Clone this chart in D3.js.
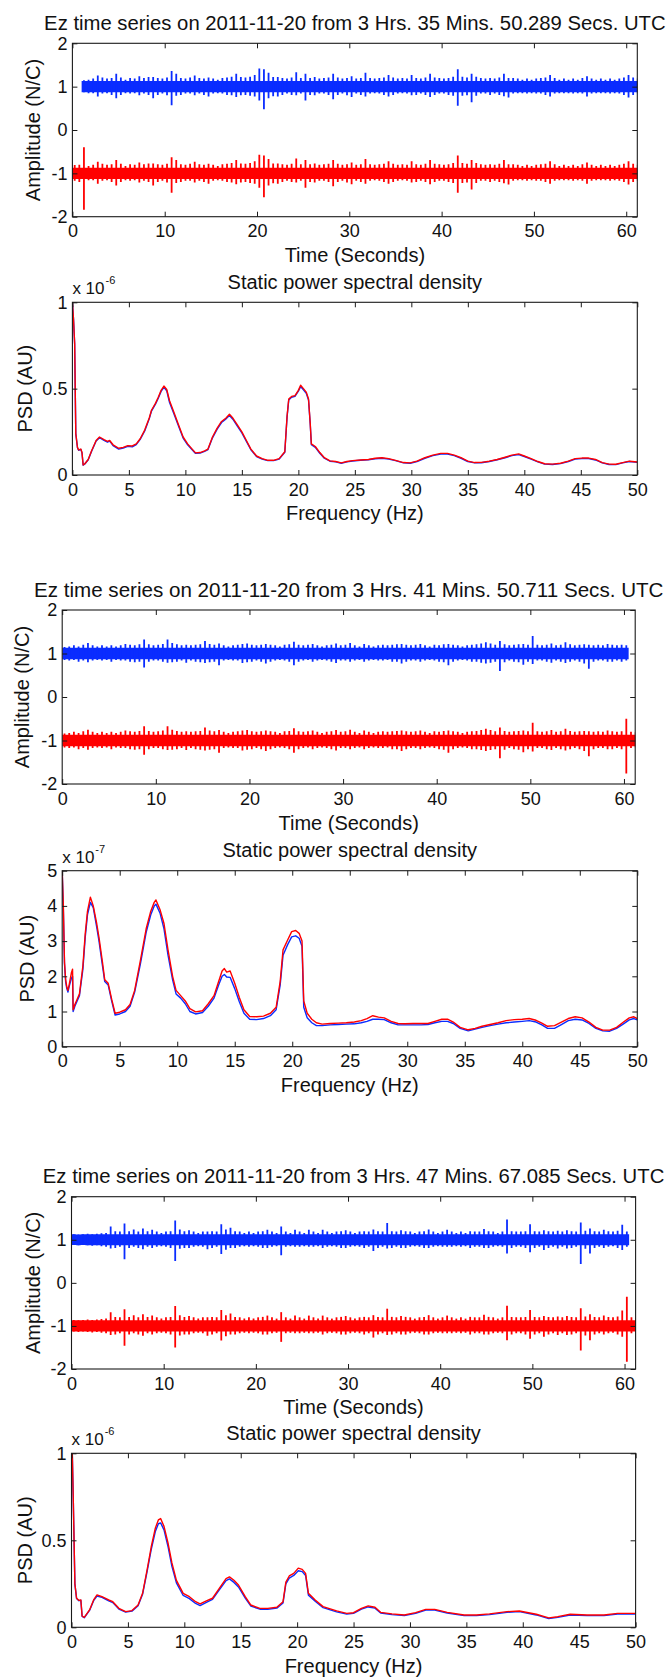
<!DOCTYPE html>
<html>
<head>
<meta charset="utf-8">
<script src="https://cdn.jsdelivr.net/npm/d3@7"></script>
<style>
  html, body { margin: 0; padding: 0; background: #ffffff; }
  svg { display: block; }
</style>
</head>
<body>
<svg id="chart" width="667" height="1677"></svg>
<script>
// ---------------------------------------------------------------------------
// Axis ticks and labels
// ---------------------------------------------------------------------------
const timeTicks = [0, 10, 20, 30, 40, 50, 60];
const ampTicks = [-2, -1, 0, 1, 2];
const freqTicks = [0, 5, 10, 15, 20, 25, 30, 35, 40, 45, 50];
const psdTicksE6 = [0, 0.5, 1];
const psdTicksE7 = [0, 1, 2, 3, 4, 5];
const timeMax = 61.2;

const tsTitles = [
  "Ez time series on 2011-11-20 from 3 Hrs. 35 Mins. 50.289 Secs. UTC",
  "Ez time series on 2011-11-20 from 3 Hrs. 41 Mins. 50.711 Secs. UTC",
  "Ez time series on 2011-11-20 from 3 Hrs. 47 Mins. 67.085 Secs. UTC"
];
const psdTitle = "Static power spectral density";
const psdExponents = ["-6", "-7", "-6"];

// ---------------------------------------------------------------------------
// Ez time series: per-bin upper / lower envelope (N/C), bins of 0.5 s
// Blue trace sits at +1 N/C, red trace at -1 N/C
// ---------------------------------------------------------------------------
const binStep = 0.5;
const blueOffset = 1;
const redOffset = -1;

// Record 1 (3 h 35 min)
const ez1BlueStart = 1.0;
const ez1BlueHi = [1.15,1.16,1.19,1.26,1.21,1.19,1.20,1.30,1.21,1.16,
1.20,1.19,1.24,1.20,1.22,1.22,1.20,1.19,1.21,1.36,
1.30,1.20,1.19,1.21,1.26,1.20,1.19,1.21,1.19,1.16,
1.20,1.21,1.23,1.30,1.22,1.21,1.23,1.27,1.42,1.40,
1.32,1.22,1.22,1.20,1.19,1.21,1.33,1.20,1.30,1.20,
1.22,1.19,1.20,1.21,1.30,1.21,1.19,1.20,1.24,1.19,
1.20,1.32,1.20,1.19,1.20,1.21,1.27,1.21,1.19,1.20,
1.19,1.27,1.20,1.19,1.21,1.30,1.21,1.20,1.19,1.20,
1.23,1.40,1.23,1.21,1.30,1.23,1.20,1.19,1.20,1.19,
1.21,1.30,1.20,1.20,1.19,1.16,1.19,1.16,1.19,1.20,
1.21,1.27,1.20,1.16,1.19,1.16,1.19,1.16,1.20,1.24,
1.19,1.16,1.19,1.16,1.19,1.16,1.19,1.21,1.27,1.21,1.19];
const ez1BlueLo = [0.87,0.85,0.85,0.77,0.84,0.85,0.81,0.73,0.81,0.85,
0.84,0.85,0.80,0.84,0.81,0.73,0.81,0.84,0.80,0.57,
0.79,0.81,0.84,0.84,0.80,0.84,0.81,0.77,0.84,0.85,
0.84,0.81,0.80,0.76,0.80,0.81,0.79,0.77,0.68,0.48,
0.73,0.78,0.77,0.81,0.84,0.81,0.80,0.84,0.68,0.81,
0.80,0.84,0.84,0.81,0.71,0.81,0.84,0.80,0.76,0.84,
0.81,0.77,0.84,0.85,0.84,0.81,0.77,0.81,0.84,0.85,
0.84,0.80,0.81,0.84,0.81,0.76,0.81,0.84,0.84,0.81,
0.79,0.56,0.79,0.80,0.64,0.79,0.84,0.84,0.81,0.84,
0.81,0.78,0.75,0.84,0.85,0.85,0.84,0.85,0.84,0.84,
0.81,0.77,0.84,0.85,0.85,0.85,0.84,0.85,0.84,0.77,
0.84,0.85,0.85,0.85,0.84,0.85,0.84,0.81,0.75,0.81,0.84];
const ez1RedStart = 0.0;
const ez1RedHi = [-0.81,-0.80,-0.40,
-0.83,-0.80,-0.73,-0.78,-0.80,-0.79,-0.69,-0.78,-0.83,-0.79,
-0.80,-0.75,-0.79,-0.77,-0.77,-0.79,-0.80,-0.78,-0.63,-0.69,
-0.79,-0.80,-0.78,-0.73,-0.79,-0.80,-0.78,-0.80,-0.83,-0.79,
-0.78,-0.76,-0.69,-0.77,-0.78,-0.76,-0.72,-0.57,-0.59,-0.67,
-0.77,-0.77,-0.79,-0.80,-0.78,-0.66,-0.79,-0.69,-0.79,-0.77,
-0.80,-0.79,-0.78,-0.69,-0.78,-0.80,-0.79,-0.75,-0.80,-0.79,
-0.67,-0.79,-0.80,-0.79,-0.78,-0.72,-0.78,-0.80,-0.79,-0.80,
-0.72,-0.79,-0.80,-0.78,-0.69,-0.78,-0.79,-0.80,-0.79,-0.76,
-0.59,-0.76,-0.78,-0.69,-0.76,-0.79,-0.80,-0.79,-0.80,-0.78,
-0.69,-0.79,-0.79,-0.80,-0.83,-0.80,-0.83,-0.80,-0.79,-0.78,
-0.72,-0.79,-0.83,-0.80,-0.83,-0.80,-0.83,-0.79,-0.75,-0.80,
-0.83,-0.80,-0.83,-0.80,-0.83,-0.80,-0.78,-0.72,-0.78,-0.80];
const ez1RedLo = [-1.17,-1.20,-1.84,
-1.16,-1.16,-1.24,-1.17,-1.16,-1.20,-1.28,-1.20,-1.16,-1.17,
-1.16,-1.21,-1.17,-1.20,-1.28,-1.20,-1.17,-1.21,-1.45,-1.22,
-1.20,-1.17,-1.17,-1.21,-1.17,-1.20,-1.24,-1.17,-1.16,-1.17,
-1.20,-1.21,-1.25,-1.21,-1.20,-1.22,-1.24,-1.33,-1.55,-1.28,
-1.23,-1.24,-1.20,-1.17,-1.20,-1.21,-1.17,-1.33,-1.20,-1.21,
-1.17,-1.17,-1.20,-1.30,-1.20,-1.17,-1.21,-1.25,-1.17,-1.20,
-1.24,-1.17,-1.16,-1.17,-1.20,-1.24,-1.20,-1.17,-1.16,-1.17,
-1.21,-1.20,-1.17,-1.20,-1.25,-1.20,-1.17,-1.17,-1.20,-1.22,
-1.45,-1.22,-1.21,-1.37,-1.22,-1.17,-1.17,-1.20,-1.17,-1.20,
-1.23,-1.26,-1.17,-1.16,-1.16,-1.17,-1.16,-1.17,-1.17,-1.20,
-1.24,-1.17,-1.16,-1.16,-1.16,-1.17,-1.16,-1.17,-1.24,-1.17,
-1.16,-1.16,-1.16,-1.17,-1.16,-1.17,-1.20,-1.26,-1.20,-1.17];

// Record 2 (3 h 41 min)
const ez2BlueStart = 0.0;
const ez2BlueHi = [1.15,1.16,1.19,1.16,1.20,1.24,1.19,1.16,1.19,1.16,
1.19,1.16,1.19,1.22,1.20,1.19,1.21,1.32,1.21,1.19,
1.20,1.22,1.32,1.24,1.21,1.19,1.20,1.19,1.20,1.21,
1.29,1.22,1.20,1.23,1.19,1.16,1.19,1.20,1.22,1.23,
1.20,1.19,1.20,1.22,1.20,1.19,1.16,1.20,1.21,1.27,
1.20,1.19,1.20,1.22,1.19,1.16,1.19,1.20,1.23,1.19,
1.20,1.24,1.19,1.16,1.22,1.19,1.16,1.19,1.20,1.19,
1.20,1.21,1.22,1.20,1.19,1.20,1.22,1.19,1.16,1.20,
1.19,1.21,1.22,1.20,1.19,1.16,1.19,1.20,1.21,1.23,
1.26,1.23,1.20,1.29,1.21,1.19,1.20,1.21,1.22,1.20,
1.40,1.20,1.19,1.20,1.23,1.19,1.20,1.26,1.21,1.19,
1.20,1.21,1.20,1.19,1.20,1.19,1.22,1.20,1.19,1.20,1.19];
const ez2BlueLo = [0.85,0.84,0.85,0.81,0.84,0.80,0.84,0.85,0.84,0.85,
0.81,0.85,0.84,0.84,0.81,0.80,0.81,0.68,0.81,0.84,
0.84,0.81,0.79,0.80,0.81,0.84,0.79,0.84,0.81,0.80,
0.78,0.80,0.81,0.73,0.84,0.85,0.84,0.84,0.78,0.80,
0.81,0.84,0.81,0.77,0.81,0.84,0.85,0.84,0.81,0.73,
0.81,0.84,0.85,0.81,0.84,0.85,0.84,0.81,0.78,0.84,
0.84,0.81,0.84,0.85,0.81,0.84,0.85,0.84,0.84,0.85,
0.81,0.81,0.77,0.81,0.84,0.84,0.81,0.84,0.85,0.84,
0.81,0.80,0.73,0.81,0.84,0.85,0.84,0.81,0.81,0.79,
0.77,0.79,0.81,0.60,0.80,0.84,0.81,0.80,0.74,0.81,
0.76,0.84,0.84,0.81,0.79,0.84,0.81,0.78,0.81,0.84,
0.81,0.77,0.65,0.81,0.84,0.84,0.81,0.81,0.84,0.81,0.84];
const ez2RedStart = 0.0;
const ez2RedHi = [-0.84,-0.83,-0.80,-0.83,-0.79,-0.75,-0.80,-0.83,-0.80,-0.83,
-0.80,-0.83,-0.80,-0.77,-0.79,-0.80,-0.78,-0.67,-0.78,-0.80,
-0.79,-0.77,-0.67,-0.75,-0.78,-0.80,-0.79,-0.80,-0.79,-0.78,
-0.70,-0.77,-0.79,-0.76,-0.80,-0.83,-0.80,-0.79,-0.77,-0.76,
-0.79,-0.80,-0.79,-0.77,-0.79,-0.80,-0.83,-0.79,-0.78,-0.72,
-0.79,-0.80,-0.79,-0.77,-0.80,-0.83,-0.80,-0.79,-0.76,-0.80,
-0.79,-0.75,-0.80,-0.83,-0.77,-0.80,-0.83,-0.80,-0.79,-0.80,
-0.79,-0.78,-0.77,-0.79,-0.80,-0.79,-0.77,-0.80,-0.83,-0.79,
-0.80,-0.78,-0.77,-0.79,-0.80,-0.83,-0.80,-0.79,-0.78,-0.76,
-0.73,-0.76,-0.79,-0.70,-0.78,-0.80,-0.79,-0.78,-0.77,-0.79,
-0.59,-0.79,-0.80,-0.79,-0.76,-0.80,-0.79,-0.73,-0.78,-0.80,
-0.79,-0.78,-0.79,-0.80,-0.79,-0.80,-0.77,-0.79,-0.80,-0.79,
-0.50,-0.80,-0.81];
const ez2RedLo = [-1.16,-1.17,-1.16,-1.20,-1.17,-1.21,-1.17,-1.16,-1.17,-1.16,
-1.20,-1.16,-1.17,-1.17,-1.20,-1.21,-1.20,-1.33,-1.20,-1.17,
-1.17,-1.20,-1.22,-1.21,-1.20,-1.17,-1.22,-1.17,-1.20,-1.21,
-1.23,-1.21,-1.20,-1.28,-1.17,-1.16,-1.17,-1.17,-1.23,-1.21,
-1.20,-1.17,-1.20,-1.24,-1.20,-1.17,-1.16,-1.17,-1.20,-1.28,
-1.20,-1.17,-1.16,-1.20,-1.17,-1.16,-1.17,-1.20,-1.23,-1.17,
-1.17,-1.20,-1.17,-1.16,-1.20,-1.17,-1.16,-1.17,-1.17,-1.16,
-1.20,-1.20,-1.24,-1.20,-1.17,-1.17,-1.20,-1.17,-1.16,-1.17,
-1.20,-1.21,-1.28,-1.20,-1.17,-1.16,-1.17,-1.20,-1.20,-1.22,
-1.24,-1.22,-1.20,-1.41,-1.21,-1.17,-1.20,-1.21,-1.27,-1.20,
-1.25,-1.17,-1.17,-1.20,-1.22,-1.17,-1.20,-1.23,-1.20,-1.17,
-1.20,-1.24,-1.36,-1.20,-1.17,-1.17,-1.20,-1.20,-1.17,-1.20,
-1.76,-1.17,-1.16];

// Record 3 (3 h 47 min)
const ez3BlueStart = 0.0;
const ez3BlueHi = [1.13,1.12,1.13,1.14,1.13,1.14,1.15,1.16,1.31,1.20,
1.19,1.38,1.20,1.24,1.19,1.26,1.20,1.23,1.19,1.16,
1.19,1.20,1.45,1.24,1.20,1.22,1.19,1.16,1.19,1.19,
1.20,1.19,1.36,1.24,1.28,1.20,1.19,1.16,1.19,1.16,
1.19,1.20,1.23,1.19,1.16,1.31,1.19,1.16,1.23,1.19,
1.16,1.23,1.19,1.16,1.23,1.19,1.16,1.19,1.20,1.22,
1.19,1.16,1.19,1.20,1.19,1.24,1.20,1.19,1.39,1.20,
1.19,1.22,1.20,1.19,1.16,1.19,1.20,1.24,1.19,1.16,
1.19,1.23,1.19,1.16,1.19,1.16,1.20,1.19,1.19,1.25,
1.20,1.19,1.16,1.19,1.47,1.20,1.19,1.19,1.20,1.36,
1.20,1.19,1.22,1.20,1.19,1.21,1.19,1.22,1.20,1.19,
1.40,1.21,1.26,1.20,1.19,1.23,1.20,1.19,1.21,1.35,1.19];
const ez3BlueLo = [0.88,0.87,0.88,0.87,0.86,0.87,0.85,0.84,0.80,0.81,
0.84,0.55,0.81,0.84,0.81,0.78,0.84,0.81,0.84,0.85,
0.84,0.81,0.51,0.79,0.81,0.81,0.84,0.85,0.84,0.78,
0.81,0.84,0.67,0.77,0.81,0.81,0.84,0.85,0.84,0.85,
0.84,0.81,0.81,0.84,0.85,0.64,0.84,0.85,0.84,0.84,
0.85,0.84,0.84,0.85,0.81,0.84,0.85,0.84,0.81,0.81,
0.84,0.85,0.84,0.81,0.84,0.74,0.81,0.84,0.80,0.81,
0.84,0.81,0.81,0.84,0.85,0.84,0.81,0.81,0.84,0.85,
0.84,0.84,0.84,0.85,0.84,0.85,0.81,0.84,0.84,0.81,
0.81,0.84,0.85,0.84,0.68,0.81,0.84,0.84,0.81,0.71,
0.81,0.84,0.76,0.81,0.84,0.80,0.84,0.80,0.81,0.84,
0.44,0.79,0.68,0.81,0.84,0.81,0.84,0.85,0.81,0.76,0.84];
const ez3RedStart = 0.0;
const ez3RedHi = [-0.86,-0.87,-0.86,-0.85,-0.86,-0.85,-0.84,-0.83,-0.68,-0.79,
-0.80,-0.61,-0.79,-0.75,-0.80,-0.73,-0.79,-0.76,-0.80,-0.83,
-0.80,-0.79,-0.54,-0.75,-0.79,-0.77,-0.80,-0.83,-0.80,-0.80,
-0.79,-0.80,-0.63,-0.75,-0.71,-0.79,-0.80,-0.83,-0.80,-0.83,
-0.80,-0.79,-0.76,-0.80,-0.83,-0.68,-0.80,-0.83,-0.76,-0.80,
-0.83,-0.76,-0.80,-0.83,-0.76,-0.80,-0.83,-0.80,-0.79,-0.77,
-0.80,-0.83,-0.80,-0.79,-0.80,-0.75,-0.79,-0.80,-0.60,-0.79,
-0.80,-0.77,-0.79,-0.80,-0.83,-0.80,-0.79,-0.75,-0.80,-0.83,
-0.80,-0.76,-0.80,-0.83,-0.80,-0.83,-0.79,-0.80,-0.80,-0.74,
-0.79,-0.80,-0.83,-0.80,-0.53,-0.79,-0.80,-0.80,-0.79,-0.63,
-0.79,-0.80,-0.77,-0.79,-0.80,-0.78,-0.80,-0.77,-0.79,-0.80,
-0.59,-0.78,-0.73,-0.79,-0.80,-0.76,-0.79,-0.80,-0.78,-0.64,
-0.32,-0.80,-0.81];
const ez3RedLo = [-1.13,-1.14,-1.13,-1.14,-1.15,-1.14,-1.16,-1.17,-1.21,-1.20,
-1.17,-1.46,-1.20,-1.17,-1.20,-1.23,-1.17,-1.20,-1.17,-1.16,
-1.17,-1.20,-1.50,-1.22,-1.20,-1.20,-1.17,-1.16,-1.17,-1.23,
-1.20,-1.17,-1.34,-1.24,-1.20,-1.20,-1.17,-1.16,-1.17,-1.16,
-1.17,-1.20,-1.20,-1.17,-1.16,-1.37,-1.17,-1.16,-1.17,-1.17,
-1.16,-1.17,-1.17,-1.16,-1.20,-1.17,-1.16,-1.17,-1.20,-1.20,
-1.17,-1.16,-1.17,-1.20,-1.17,-1.27,-1.20,-1.17,-1.21,-1.20,
-1.17,-1.20,-1.20,-1.17,-1.16,-1.17,-1.20,-1.20,-1.17,-1.16,
-1.17,-1.17,-1.17,-1.16,-1.17,-1.16,-1.20,-1.17,-1.17,-1.20,
-1.20,-1.17,-1.16,-1.17,-1.33,-1.20,-1.17,-1.17,-1.20,-1.30,
-1.20,-1.17,-1.25,-1.20,-1.17,-1.21,-1.17,-1.21,-1.20,-1.17,
-1.57,-1.22,-1.33,-1.20,-1.17,-1.20,-1.17,-1.16,-1.20,-1.25,
-1.83,-1.17,-1.16];

// ---------------------------------------------------------------------------
// Static power spectral density (axis units: x 10^-6, x 10^-7, x 10^-6)
// ---------------------------------------------------------------------------
const psd1Freq = [0,0.1,0.2,0.3,0.45,0.55,0.75,0.85,0.95,1.1,
1.4,1.7,2.1,2.4,2.8,3.1,3.3,3.6,4.1,4.5,
4.9,5.3,5.65,6.0,6.4,6.8,7.0,7.35,7.6,7.85,
8.1,8.35,8.6,9.0,9.4,9.8,10.2,10.6,10.9,11.3,
11.7,12.0,12.4,12.8,13.2,13.6,13.9,14.2,14.6,15.0,
15.4,15.8,16.3,16.8,17.3,17.8,18.3,18.8,19.0,19.15,
19.4,19.7,20.0,20.2,20.45,20.7,20.9,21.05,21.15,21.5,
21.9,22.3,22.8,23.3,23.8,24.3,24.8,25.5,26.2,26.8,
27.4,28.0,28.6,29.3,29.9,30.5,31.2,31.9,32.6,33.2,
33.8,34.4,35.0,35.6,36.2,36.9,37.6,38.3,38.9,39.5,
40.0,40.6,41.2,41.8,42.5,43.2,43.9,44.5,45.1,45.7,
46.3,46.9,47.5,48.1,48.7,49.3,50.0];
const psd1Red = [1.0,0.9,0.76,0.24,0.16,0.145,0.15,0.13,0.058,0.065,
0.09,0.14,0.2,0.22,0.205,0.195,0.2,0.175,0.155,0.16,
0.17,0.168,0.18,0.21,0.26,0.33,0.375,0.415,0.45,0.49,
0.515,0.495,0.43,0.36,0.29,0.22,0.18,0.15,0.128,0.13,
0.14,0.15,0.22,0.27,0.31,0.33,0.352,0.33,0.29,0.25,
0.2,0.15,0.11,0.095,0.085,0.085,0.095,0.135,0.34,0.44,
0.455,0.46,0.49,0.52,0.5,0.48,0.44,0.3,0.18,0.165,
0.13,0.1,0.082,0.078,0.07,0.078,0.083,0.087,0.09,0.097,
0.1,0.095,0.085,0.072,0.07,0.08,0.1,0.115,0.125,0.125,
0.115,0.1,0.08,0.072,0.073,0.08,0.09,0.103,0.115,0.122,
0.11,0.095,0.078,0.065,0.063,0.068,0.08,0.095,0.098,0.098,
0.09,0.072,0.063,0.062,0.072,0.08,0.075];
const psd1Blue = [1.0,0.9,0.76,0.24,0.158,0.143,0.148,0.128,0.057,0.064,
0.088,0.138,0.197,0.216,0.2,0.19,0.196,0.17,0.15,0.156,
0.166,0.163,0.176,0.206,0.255,0.325,0.37,0.41,0.444,0.484,
0.508,0.488,0.42,0.352,0.282,0.214,0.175,0.146,0.125,0.127,
0.137,0.147,0.215,0.264,0.304,0.325,0.345,0.323,0.283,0.244,
0.195,0.146,0.107,0.092,0.083,0.083,0.092,0.132,0.335,0.435,
0.45,0.455,0.485,0.512,0.493,0.473,0.434,0.295,0.176,0.16,
0.126,0.097,0.08,0.076,0.068,0.076,0.081,0.085,0.088,0.094,
0.097,0.092,0.083,0.07,0.068,0.078,0.097,0.112,0.121,0.121,
0.112,0.097,0.078,0.07,0.071,0.078,0.088,0.1,0.112,0.118,
0.107,0.092,0.076,0.063,0.061,0.066,0.078,0.092,0.095,0.095,
0.087,0.07,0.061,0.06,0.07,0.078,0.073];

const psd2Freq = [0,0.1,0.2,0.3,0.4,0.5,0.6,0.8,0.9,0.95,
1.1,1.3,1.5,1.8,2.0,2.2,2.45,2.7,3.0,3.2,
3.5,3.7,4.0,4.3,4.6,5.0,5.5,5.9,6.3,6.8,
7.3,7.7,8.0,8.15,8.5,8.85,9.2,9.6,9.9,10.3,
10.7,11.1,11.6,12.2,12.7,13.2,13.6,13.9,14.1,14.3,
14.6,15.0,15.4,15.8,16.3,16.9,17.5,18.1,18.6,18.95,
19.2,19.6,19.95,20.3,20.6,20.85,21.0,21.3,21.7,22.1,
22.6,23.3,24.0,24.7,25.4,26.0,26.5,27.0,27.5,28.0,
28.6,29.2,29.8,30.5,31.2,31.8,32.4,33.0,33.5,34.0,
34.6,35.3,35.9,36.5,37.2,37.9,38.6,39.3,40.0,40.6,
41.2,41.7,42.2,42.8,43.4,44.0,44.6,45.2,45.8,46.4,
47.0,47.6,48.2,48.8,49.3,49.7,50.0];
const psd2Red = [5.0,4.0,2.4,1.9,1.7,1.6,1.75,2.1,2.2,1.05,
1.2,1.35,1.5,2.3,3.2,3.85,4.25,4.0,3.5,3.1,
2.4,1.9,1.8,1.35,0.95,0.98,1.05,1.2,1.6,2.45,
3.35,3.85,4.1,4.17,3.9,3.5,2.75,2.0,1.6,1.45,
1.3,1.08,0.99,1.02,1.22,1.45,1.85,2.15,2.22,2.12,
2.15,1.8,1.4,1.05,0.86,0.85,0.87,0.95,1.12,1.85,
2.75,3.03,3.27,3.3,3.22,3.0,1.3,0.95,0.78,0.68,
0.64,0.66,0.67,0.68,0.7,0.74,0.8,0.88,0.84,0.82,
0.72,0.66,0.65,0.66,0.66,0.66,0.72,0.78,0.78,0.7,
0.55,0.48,0.52,0.58,0.63,0.68,0.74,0.77,0.78,0.8,
0.75,0.67,0.58,0.6,0.7,0.8,0.85,0.82,0.7,0.55,
0.47,0.47,0.55,0.7,0.82,0.85,0.8];
const psd2Blue = [5.0,3.9,2.35,1.85,1.65,1.55,1.7,1.95,2.0,1.0,
1.15,1.3,1.45,2.2,3.1,3.75,4.1,3.95,3.4,3.0,
2.3,1.85,1.75,1.3,0.9,0.93,1.0,1.15,1.55,2.35,
3.25,3.75,4.0,4.05,3.8,3.35,2.6,1.9,1.5,1.38,
1.22,1.0,0.93,0.97,1.15,1.38,1.75,2.0,2.05,1.98,
1.97,1.65,1.28,0.95,0.78,0.77,0.8,0.88,1.05,1.75,
2.6,2.9,3.12,3.15,3.08,2.85,1.12,0.82,0.68,0.6,
0.6,0.62,0.63,0.64,0.65,0.68,0.72,0.78,0.78,0.77,
0.68,0.62,0.62,0.62,0.62,0.63,0.68,0.72,0.72,0.66,
0.52,0.45,0.5,0.55,0.6,0.64,0.68,0.7,0.72,0.74,
0.7,0.62,0.52,0.52,0.63,0.74,0.78,0.76,0.66,0.52,
0.45,0.44,0.52,0.65,0.76,0.8,0.76];

const psd3Freq = [0,0.07,0.15,0.3,0.45,0.65,0.83,0.94,1.13,1.6,
1.96,2.26,2.7,3.3,3.66,4.2,4.8,5.36,5.9,6.3,
6.7,7.06,7.43,7.7,7.9,8.2,8.57,8.9,9.3,9.9,
10.45,11.0,11.4,12.0,12.5,13.1,13.7,14.0,14.4,14.8,
15.4,15.9,16.7,17.4,18.2,18.75,19.0,19.3,19.7,20.1,
20.45,20.75,21.0,21.6,22.3,23.5,24.4,25.0,25.7,26.3,
26.9,27.4,28.4,29.5,30.5,31.4,32.2,33.3,34.8,35.9,
37.05,38.6,39.7,41.2,42.3,43.1,44.2,45.7,47.2,48.4,
50.0];
const psd3Red = [1.0,1.0,0.76,0.25,0.167,0.155,0.157,0.065,0.057,0.1,
0.157,0.186,0.176,0.157,0.147,0.109,0.09,0.096,0.128,0.195,
0.33,0.46,0.57,0.617,0.625,0.58,0.48,0.37,0.27,0.195,
0.176,0.147,0.134,0.153,0.167,0.224,0.28,0.29,0.27,0.243,
0.176,0.128,0.109,0.109,0.115,0.147,0.26,0.295,0.31,0.34,
0.333,0.31,0.195,0.157,0.119,0.094,0.08,0.084,0.109,0.123,
0.115,0.086,0.077,0.071,0.084,0.103,0.103,0.086,0.071,0.071,
0.077,0.09,0.094,0.075,0.054,0.061,0.075,0.071,0.071,0.08,
0.08];
const psd3Blue = [1.0,1.0,0.76,0.25,0.165,0.153,0.155,0.063,0.055,0.097,
0.153,0.18,0.172,0.152,0.142,0.105,0.087,0.093,0.124,0.19,
0.32,0.445,0.55,0.595,0.6,0.56,0.46,0.35,0.255,0.183,
0.165,0.137,0.125,0.145,0.16,0.215,0.268,0.278,0.258,0.232,
0.168,0.122,0.104,0.104,0.11,0.14,0.25,0.283,0.298,0.325,
0.32,0.298,0.185,0.15,0.113,0.089,0.076,0.08,0.104,0.117,
0.11,0.082,0.073,0.068,0.08,0.099,0.099,0.082,0.067,0.067,
0.073,0.086,0.09,0.071,0.05,0.057,0.071,0.067,0.067,0.076,
0.076];

// ---------------------------------------------------------------------------
// Page layout (pixel boxes of the six axes) and styling
// ---------------------------------------------------------------------------
const FONT = '"Liberation Sans", Arial, Helvetica, sans-serif';
const BLUE = "#0a2cff";
const RED = "#ff0000";
const INK = "#111111";
const CORE_HALF = 0.13;   // half-height of the solid noise floor band, N/C

const boxes = [
  { left: 72.4, top: 43.3,   right: 637.3, bottom: 216.7,  ylabX: 33,   titleSize: 20.3 },
  { left: 72.4, top: 302.3,  right: 637.3, bottom: 475.0,  ylabX: 24.5 },
  { left: 62.2, top: 610.0,  right: 635.2, bottom: 784.0,  ylabX: 22,   titleSize: 20.6 },
  { left: 62.2, top: 870.7,  right: 637.3, bottom: 1046.7, ylabX: 26.6 },
  { left: 71.5, top: 1196.7, right: 635.6, bottom: 1369.0, ylabX: 33,   titleSize: 20.3 },
  { left: 71.5, top: 1453.3, right: 635.6, bottom: 1627.3, ylabX: 24.5 }
];

const svg = d3.select("#chart");
let clipId = 0;

function makeFrame(box, xDomain, yDomain) {
  const w = box.right - box.left;
  const h = box.bottom - box.top;
  const g = svg.append("g").attr("transform", `translate(${box.left},${box.top})`);
  const x = d3.scaleLinear().domain(xDomain).range([0, w]);
  const y = d3.scaleLinear().domain(yDomain).range([h, 0]);
  const id = "plotclip" + (clipId++);
  g.append("clipPath").attr("id", id)
    .append("rect").attr("width", w).attr("height", h);
  const plot = g.append("g").attr("clip-path", `url(#${id})`);
  return { g, x, y, w, h, plot, box };
}

function styleAxis(sel) {
  sel.attr("font-family", FONT).attr("font-size", 18);
  sel.selectAll(".tick line").attr("stroke", "#1a1a1a");
  sel.selectAll(".tick text").attr("fill", INK);
  sel.select(".domain").remove();
}

function finishFrame(f, xTicks, yTicks, xLabel, yLabel) {
  const fmt = d => String(d);
  f.g.append("g").attr("transform", `translate(0,${f.h})`)
    .call(d3.axisBottom(f.x).tickValues(xTicks).tickSizeInner(-5).tickSizeOuter(0).tickPadding(8).tickFormat(fmt))
    .call(styleAxis);
  f.g.append("g")
    .call(d3.axisLeft(f.y).tickValues(yTicks).tickSizeInner(-5).tickSizeOuter(0).tickPadding(5).tickFormat(fmt))
    .call(styleAxis);
  f.g.append("g")
    .call(d3.axisTop(f.x).tickValues(xTicks).tickSizeInner(-5).tickSizeOuter(0).tickFormat(""))
    .call(styleAxis);
  f.g.append("g").attr("transform", `translate(${f.w},0)`)
    .call(d3.axisRight(f.y).tickValues(yTicks).tickSizeInner(-5).tickSizeOuter(0).tickFormat(""))
    .call(styleAxis);
  f.g.append("rect")
    .attr("width", f.w).attr("height", f.h)
    .attr("fill", "none").attr("stroke", "#1a1a1a").attr("stroke-width", 1.1);

  f.g.append("text")
    .attr("x", f.w / 2).attr("y", f.h + 38.5).attr("dy", "0.35em")
    .attr("text-anchor", "middle")
    .attr("font-family", FONT).attr("font-size", 20).attr("fill", INK)
    .text(xLabel);

  svg.append("text")
    .attr("transform", `translate(${f.box.ylabX},${f.box.top + f.h / 2}) rotate(-90)`)
    .attr("dy", "0.35em")
    .attr("text-anchor", "middle")
    .attr("font-family", FONT).attr("font-size", 20).attr("fill", INK)
    .text(yLabel);
}

function addTitle(f, text, size) {
  f.g.append("text")
    .attr("x", f.w / 2).attr("y", -20.5).attr("dy", "0.35em")
    .attr("text-anchor", "middle")
    .attr("font-family", FONT).attr("font-size", size).attr("fill", INK)
    .text(text);
}

// One trace: a solid noise-floor band (each bin's min/max limited to the
// floor half-height, drawn as steps) plus a vertical min-to-max stroke per bin.
function drawTrace(f, s, color) {
  const bins = s.hi.map((v, i) => ({ t: s.start + i * binStep, hi: v, lo: s.lo[i] }));
  const last = bins[bins.length - 1];
  const stepped = bins.concat([{ t: last.t + binStep, hi: last.hi, lo: last.lo }]);
  const area = d3.area()
    .x(d => f.x(d.t))
    .y0(d => f.y(Math.max(d.lo, s.offset - CORE_HALF)))
    .y1(d => f.y(Math.min(d.hi, s.offset + CORE_HALF)))
    .curve(d3.curveStepAfter);
  f.plot.append("path").datum(stepped).attr("d", area).attr("fill", color);
  f.plot.append("g").selectAll("line")
    .data(bins)
    .join("line")
    .attr("x1", d => f.x(d.t + binStep / 2))
    .attr("x2", d => f.x(d.t + binStep / 2))
    .attr("y1", d => f.y(d.hi))
    .attr("y2", d => f.y(d.lo))
    .attr("stroke", color)
    .attr("stroke-width", 1.8);
}

function drawTimeSeries(box, title, blue, red) {
  const f = makeFrame(box, [0, timeMax], [-2, 2]);
  drawTrace(f, blue, BLUE);
  drawTrace(f, red, RED);
  finishFrame(f, timeTicks, ampTicks, "Time (Seconds)", "Amplitude (N/C)");
  addTitle(f, title, box.titleSize);
}

function drawPsd(box, freq, blue, red, yMax, yTicks, exponent) {
  const f = makeFrame(box, [0, 50], [0, yMax]);
  const line = d3.line().x((d, i) => f.x(freq[i])).y(d => f.y(d));
  [[blue, BLUE], [red, RED]].forEach(([vals, color]) => {
    f.plot.append("path")
      .datum(vals)
      .attr("d", line)
      .attr("fill", "none")
      .attr("stroke", color)
      .attr("stroke-width", 1.4)
      .attr("stroke-linejoin", "round");
  });
  finishFrame(f, freqTicks, yTicks, "Frequency (Hz)", "PSD (AU)");
  addTitle(f, psdTitle, 20);
  const mult = f.g.append("text")
    .attr("x", 0).attr("y", -8)
    .attr("font-family", FONT).attr("font-size", 17).attr("fill", INK)
    .text("x 10");
  mult.append("tspan")
    .attr("dx", 1).attr("dy", -10)
    .attr("font-size", 11)
    .text(exponent);
}

drawTimeSeries(boxes[0], tsTitles[0],
  { start: ez1BlueStart, hi: ez1BlueHi, lo: ez1BlueLo, offset: blueOffset },
  { start: ez1RedStart, hi: ez1RedHi, lo: ez1RedLo, offset: redOffset });
drawPsd(boxes[1], psd1Freq, psd1Blue, psd1Red, 1, psdTicksE6, psdExponents[0]);

drawTimeSeries(boxes[2], tsTitles[1],
  { start: ez2BlueStart, hi: ez2BlueHi, lo: ez2BlueLo, offset: blueOffset },
  { start: ez2RedStart, hi: ez2RedHi, lo: ez2RedLo, offset: redOffset });
drawPsd(boxes[3], psd2Freq, psd2Blue, psd2Red, 5, psdTicksE7, psdExponents[1]);

drawTimeSeries(boxes[4], tsTitles[2],
  { start: ez3BlueStart, hi: ez3BlueHi, lo: ez3BlueLo, offset: blueOffset },
  { start: ez3RedStart, hi: ez3RedHi, lo: ez3RedLo, offset: redOffset });
drawPsd(boxes[5], psd3Freq, psd3Blue, psd3Red, 1, psdTicksE6, psdExponents[2]);
</script>
</body>
</html>
